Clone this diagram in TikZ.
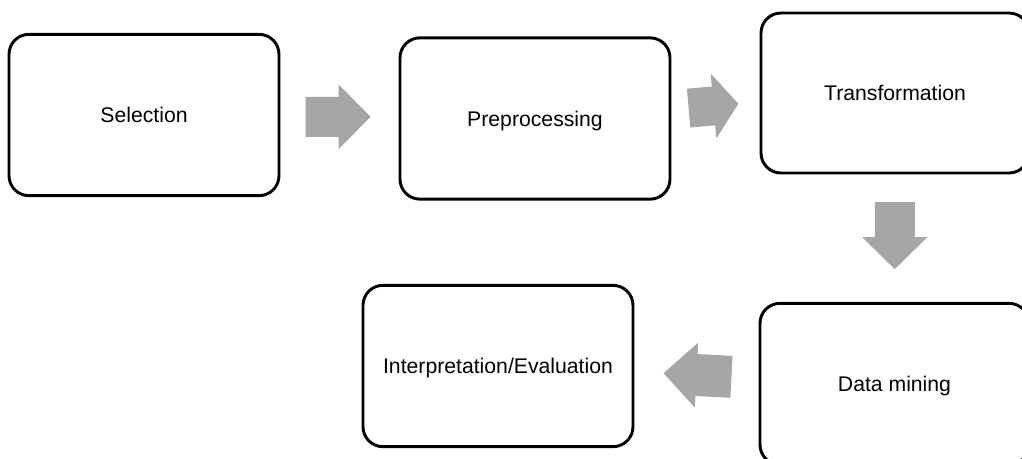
\documentclass[tikz,border=0pt]{standalone}
\usepackage{fontspec}
\setmainfont{Liberation Sans}
\usetikzlibrary{calc}
\definecolor{blockgray}{RGB}{166,166,166}
\tikzset{
  stage/.style={draw=black, line width=2.2pt, rounded corners=15pt, fill=white,
    minimum width=202.5pt, minimum height=121pt, inner sep=0pt,
    text height=11.4pt, text depth=0pt,
    font=\fontsize{15.9pt}{19pt}\selectfont},
  blockarrow/.style={fill=blockgray, draw=none}
}
\begin{document}
\begin{tikzpicture}[x=0.75pt, y=-0.75pt]
  \useasboundingbox (0,0) rectangle (1022,458);
  \clip (0,0) rectangle (1022,458);

  % process stages
  \node[stage] (sel) at (144,115)   {Selection};
  \node[stage] (pre) at (535,118.5) {Preprocessing};
  \node[stage, minimum width=201pt, minimum height=120pt] (tra) at (895,93) {Transformation};
  \node[stage, minimum width=201.75pt] (dmi) at (894.5,384) {Data mining};
  \node[stage] (ine) at (498,366) {Interpretation/Evaluation};

  % block arrows between the stages
  \fill[blockarrow, shift={($(sel.east)!0.5!(pre.west)$)}, rotate=0]
    (-34,-20) -- (-1,-20) -- (-1,-32.5) -- (31,0) -- (-1,32.5) -- (-1,20) -- (-34,20) -- cycle;
  \fill[blockarrow, shift={($(pre.east)!0.5!(tra.west)$)}, rotate=5]
    (-27,-19.5) -- (-2,-19.5) -- (-2,-32.5) -- (23,0) -- (-2,32.5) -- (-2,19.5) -- (-27,19.5) -- cycle;
  \fill[blockarrow, shift={($(tra.south)!0.5!(dmi.north)$)}, rotate=-90]
    (-36,-20) -- (-1,-20) -- (-1,-32.5) -- (31,0) -- (-1,32.5) -- (-1,20) -- (-36,20) -- cycle;
  \fill[blockarrow, shift={($(dmi.west)!0.5!(ine.east)$)}, rotate=177]
    (-35,-21) -- (0,-21) -- (0,-32.5) -- (33,0) -- (0,32.5) -- (0,21) -- (-35,21) -- cycle;
\end{tikzpicture}
\end{document}
